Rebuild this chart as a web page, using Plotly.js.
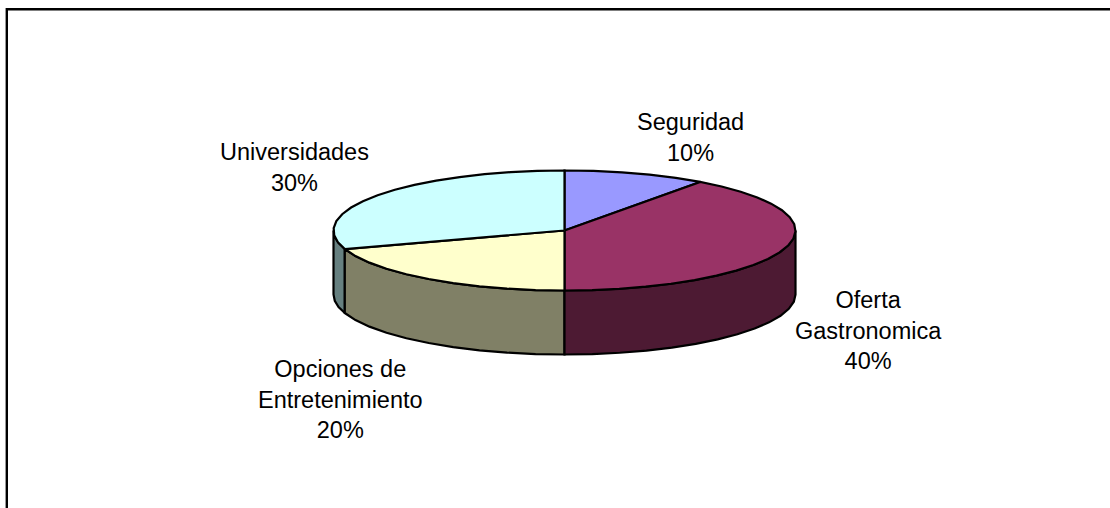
<!DOCTYPE html>
<html><head><meta charset="utf-8">
<script src="https://cdn.plot.ly/plotly-3.0.1.min.js"></script>
<style>html,body{margin:0;padding:0;background:#fff}#c{width:1110px;height:508px}</style>
</head><body><div id="c"></div>
<script>
var categories = ["Seguridad","Oferta Gastronomica","Opciones de Entretenimiento","Universidades"];
var shares = [10,40,20,30];
var labelLines = [["Seguridad","10%"],["Oferta","Gastronomica","40%"],["Opciones de","Entretenimiento","20%"],["Universidades","30%"]];
var topColors = ["#9999FF","#993366","#FFFFCC","#CCFFFF"];
var sideColors = ["#4D4D80","#4D1A33","#808066","#668080"];

var cx=564.5, cy=230.5, rx=231, ry=60, depth=64;
var labelPos=[[690,137],[868,330],[340,399],[294,167]];
var total=shares.reduce(function(a,b){return a+b;},0);
function px(t){return cx+rx*Math.sin(t);}
function py(t){return cy-ry*Math.cos(t);}
function arc(a,b){var n=Math.max(2,Math.round((b-a)/(Math.PI/26)));var o=[];for(var i=0;i<=n;i++)o.push(a+(b-a)*i/n);return o;}
var traces=[],start=0,wedges=[];
shares.forEach(function(v,i){var end=start+v/total*2*Math.PI;wedges.push([start,end]);start=end;});
function poly(xs,ys,fill){traces.push({type:'scatter',mode:'lines',x:xs,y:ys,fill:'toself',fillcolor:fill,line:{color:'#000',width:2.2,simplify:false},hoverinfo:'skip',showlegend:false});}
// side walls: only the front half of the rim (PI/2..3PI/2) is visible
var order=[3,2,1];
order.forEach(function(i){
  var a=Math.max(wedges[i][0],Math.PI/2),b=Math.min(wedges[i][1],3*Math.PI/2);
  if(b<=a)return;
  var ts=arc(a,b);
  var xs=ts.map(px),ys=ts.map(py);
  var xb=xs.slice().reverse(),yb=ts.map(function(t){return py(t)+depth;}).reverse();
  poly(xs.concat(xb,[xs[0]]),ys.concat(yb,[ys[0]]),sideColors[i]);
});
// top faces
wedges.forEach(function(w,i){
  var ts=arc(w[0],w[1]);
  var xs=[cx].concat(ts.map(px),[cx]),ys=[cy].concat(ts.map(py),[cy]);
  poly(xs,ys,topColors[i]);
});
var annotations=labelLines.map(function(l,i){
  return {x:labelPos[i][0],y:labelPos[i][1],xref:'x',yref:'y',xanchor:'center',yanchor:'middle',showarrow:false,align:'center',
    text:l.join('<br>'),font:{family:'"Liberation Sans",Arial,sans-serif',size:23.5,color:'#000'}};
});
var layout={width:1110,height:508,margin:{l:0,r:0,t:0,b:0},paper_bgcolor:'#fff',plot_bgcolor:'#fff',showlegend:false,
  xaxis:{range:[0,1110],visible:false,fixedrange:true},
  yaxis:{range:[508,0],visible:false,fixedrange:true},
  annotations:annotations,
  shapes:[{type:'rect',xref:'x',yref:'y',x0:6.8,y0:9.3,x1:1130,y1:530,line:{color:'#000',width:2.4},fillcolor:'rgba(0,0,0,0)',layer:'below'}]};
Plotly.newPlot('c',traces,layout,{displayModeBar:false,staticPlot:true});
</script></body></html>
